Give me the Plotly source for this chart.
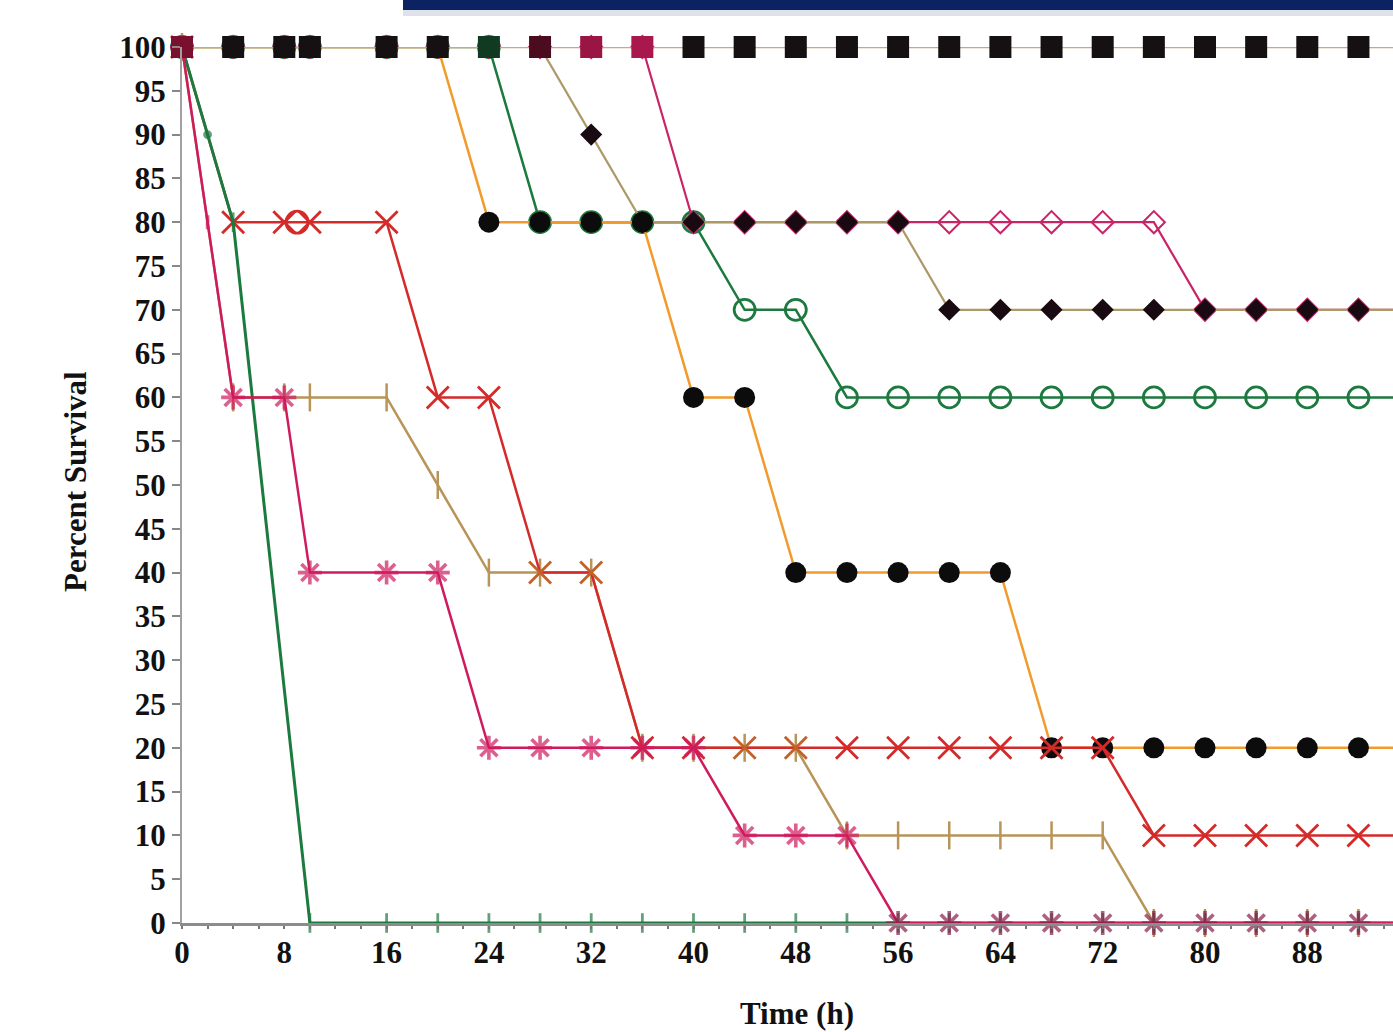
import plotly.graph_objects as go

# ---------------- data ----------------
hours = [0, 4, 8, 10, 16, 20, 24, 28, 32, 36, 40, 44, 48, 52, 56, 60, 64, 68, 72, 76, 80, 84, 88, 92, 96]

control_sq = [100, 100, 100, 100, 100, 100, 100, 100, 100, 100, 100, 100, 100,
              100, 100, 100, 100, 100, 100, 100, 100, 100, 100, 100, 100]
orange_circ = [100, 100, 100, 100, 100, 100, 80, 80, 80, 80, 60, 60, 40,
               40, 40, 40, 40, 20, 20, 20, 20, 20, 20, 20, 20]
green_open = [100, 100, 100, 100, 100, 100, 100, 80, 80, 80, 80, 70, 70,
              60, 60, 60, 60, 60, 60, 60, 60, 60, 60, 60, 60]
black_diam = [100, 100, 100, 100, 100, 100, 100, 100, 90, 80, 80, 80, 80,
              80, 80, 70, 70, 70, 70, 70, 70, 70, 70, 70, 70]
open_diam = [100, 100, 100, 100, 100, 100, 100, 100, 100, 100, 80, 80, 80,
             80, 80, 80, 80, 80, 80, 80, 70, 70, 70, 70, 70]
olive_bar = [100, 60, 60, 60, 60, 50, 40, 40, 40, 20, 20, 20, 20,
             10, 10, 10, 10, 10, 10, 0, 0, 0, 0, 0, 0]

red_hours = [0, 4, 8, 9, 10, 16, 20, 24, 28, 32, 36, 40, 44, 48, 52, 56, 60, 64, 68, 72, 76, 80, 84, 88, 92, 96]
red_x = [100, 80, 80, 80, 80, 80, 60, 60, 40, 40, 20, 20, 20, 20,
         20, 20, 20, 20, 20, 20, 10, 10, 10, 10, 10, 10]

mag_hours = [0, 2, 4, 8, 10, 16, 20, 24, 28, 32, 36, 40, 44, 48, 52, 56, 60, 64, 68, 72, 76, 80, 84, 88, 92, 96]
mag_ast = [100, 80, 60, 60, 40, 40, 40, 20, 20, 20, 20, 20, 10, 10, 10,
           0, 0, 0, 0, 0, 0, 0, 0, 0, 0, 0]

green_hours = [0, 2, 4, 10, 16, 20, 24, 28, 32, 36, 40, 44, 48, 52, 56, 60, 64, 68, 72, 76, 80, 84, 88, 92, 96]
green_drop = [100, 90, 80, 0, 0, 0, 0, 0, 0, 0, 0, 0, 0, 0, 0, 0, 0, 0, 0, 0, 0, 0, 0, 0, 0]

y_ticks = [0, 5, 10, 15, 20, 25, 30, 35, 40, 45, 50, 55, 60, 65, 70, 75, 80, 85, 90, 95, 100]
x_ticks = [0, 8, 16, 24, 32, 40, 48, 56, 64, 72, 80, 88]

# ---------------- styles ----------------
FONT = "Liberation Serif"
C_GREEN = "#1c7a3f"
C_MAG = "#cf1b5e"
C_RED = "#d42a2a"
C_OLIVE = "#b89458"
C_ORANGE = "#f29b2c"
C_CRIM = "#c92468"
C_TOPLINE = "#cfa57c"
C_DIAMLINE = "#ad9868"

fig = go.Figure()

# green open circles
fig.add_trace(go.Scatter(
    x=hours, y=green_open, mode="lines+markers", cliponaxis=False,
    line=dict(color=C_GREEN, width=2.5),
    marker=dict(symbol="circle-open", size=21, color=C_GREEN, line=dict(color=C_GREEN, width=2.8))))

# crimson open diamonds
fig.add_trace(go.Scatter(
    x=hours, y=open_diam, mode="lines+markers", cliponaxis=False,
    line=dict(color=C_CRIM, width=2.2),
    marker=dict(symbol="diamond-open", size=17, color=C_CRIM, line=dict(color=C_CRIM, width=2))))

# black diamonds
fig.add_trace(go.Scatter(
    x=hours, y=black_diam, mode="lines+markers", cliponaxis=False,
    line=dict(color=C_DIAMLINE, width=2.2),
    marker=dict(symbol="diamond", size=17, color="#180a10", line=dict(width=0))))

# orange line with black circles
fig.add_trace(go.Scatter(
    x=hours, y=orange_circ, mode="lines+markers", cliponaxis=False,
    line=dict(color=C_ORANGE, width=2.5),
    marker=dict(symbol="circle", size=21, color="#0c0c0c", line=dict(width=0))))

# olive bars
fig.add_trace(go.Scatter(
    x=hours, y=olive_bar, mode="lines+markers", cliponaxis=False,
    line=dict(color=C_OLIVE, width=2.5),
    marker=dict(symbol="line-ns-open", size=20, color=C_OLIVE, line=dict(color=C_OLIVE, width=2.5))))

# red X (with an open circle at 9 h)
red_override = {28: "#c2622a", 32: "#c2622a", 44: "#c2622a", 48: "#c2622a"}
red_colors = [red_override.get(h, C_RED) for h in red_hours]
red_symbols = ["circle-open" if h == 9 else "x-thin-open" for h in red_hours]
fig.add_trace(go.Scatter(
    x=red_hours, y=red_x, mode="lines+markers", cliponaxis=False,
    line=dict(color=C_RED, width=2.5),
    marker=dict(symbol=red_symbols, size=22, color=red_colors,
                line=dict(color=red_colors, width=2.8))))

# green steep drop
g_sym = ["circle" if h == 2 else "line-ns-open" for h in green_hours]
g_size = [6 if h == 2 else 14 for h in green_hours]
fig.add_trace(go.Scatter(
    x=green_hours, y=green_drop, mode="lines+markers", cliponaxis=False,
    line=dict(color=C_GREEN, width=3),
    marker=dict(symbol=g_sym, size=g_size, color=C_GREEN, line=dict(color=C_GREEN, width=2.8))))

# magenta asterisks
m_sym = ["line-ns-open" if h == 2 else "asterisk-open" for h in mag_hours]
m_size = [10 if h == 2 else 20 for h in mag_hours]
m_col = ["#8a1c48" if v == 0 else C_MAG for v in mag_ast]
fig.add_trace(go.Scatter(
    x=mag_hours, y=mag_ast, mode="lines+markers", cliponaxis=False,
    line=dict(color=C_MAG, width=2.5),
    marker=dict(symbol=m_sym, size=m_size, color=m_col, line=dict(color=m_col, width=3.6))))

# control squares at 100 %
sq_override = {0: "#7a1030", 24: "#103a22", 28: "#4c0c20", 32: "#9a1444", 36: "#a8184c"}
sq_colors = [sq_override.get(h, "#151012") for h in hours]
fig.add_trace(go.Scatter(
    x=hours, y=control_sq, mode="lines+markers", cliponaxis=False,
    line=dict(color=C_TOPLINE, width=2.5),
    marker=dict(symbol="square", size=22, color=sq_colors, line=dict(width=0))))

# ---------------- layout ----------------
L, R, T, B = 182, 0, 47, 109
W, H = 1393, 1032
px_per_h = 102.3 / 8
x_max = (W - L - R) / px_per_h
plot_h = H - T - B


def paper_y(py):
    return (H - B - py) / plot_h


def paper_x(px):
    return (px - L) / (W - L - R)


fig.update_layout(
    width=W, height=H,
    margin=dict(l=L, r=R, t=T, b=B, pad=0),
    paper_bgcolor="white", plot_bgcolor="white",
    showlegend=False,
    font=dict(family=FONT, color="#111"),
    xaxis=dict(
        range=[0, x_max], tickmode="array", tickvals=x_ticks,
        showgrid=False, zeroline=False, showline=True, linecolor="#8c8c8c", linewidth=3,
        ticks="", tickfont=dict(family=FONT, size=31, color="#111", weight="bold"),
        ticklabelstandoff=0,
        minor=dict(ticks="outside", dtick=2, tick0=0, ticklen=3, tickwidth=2, tickcolor="#777"),
    ),
    yaxis=dict(
        range=[0, 100], tickmode="array", tickvals=y_ticks,
        showgrid=False, zeroline=False, showline=True, linecolor="#a0a0a0", linewidth=2,
        ticks="outside", ticklen=8, tickwidth=2, tickcolor="#888",
        tickfont=dict(family=FONT, size=31, color="#111", weight="bold"),
    ),
    annotations=[
        dict(text="<b>Time (h)</b>", xref="paper", yref="paper",
             x=paper_x(797), y=paper_y(1013), xanchor="center", yanchor="middle",
             showarrow=False, font=dict(family=FONT, size=31, color="#111")),
        dict(text="<b>Percent Survival</b>", xref="paper", yref="paper",
             x=paper_x(75), y=paper_y(482), xanchor="center", yanchor="middle",
             textangle=-90, showarrow=False, font=dict(family=FONT, size=31, color="#111")),
    ],
    shapes=[
        dict(type="rect", xref="paper", yref="paper", layer="above",
             x0=paper_x(403), x1=paper_x(W), y0=paper_y(16), y1=paper_y(10),
             fillcolor="#dfe2e8", line=dict(width=0)),
        dict(type="rect", xref="paper", yref="paper", layer="above",
             x0=paper_x(403), x1=paper_x(W), y0=paper_y(10), y1=paper_y(0),
             fillcolor="#0b2263", line=dict(width=0)),
    ],
)

fig.write_html("out.html")
